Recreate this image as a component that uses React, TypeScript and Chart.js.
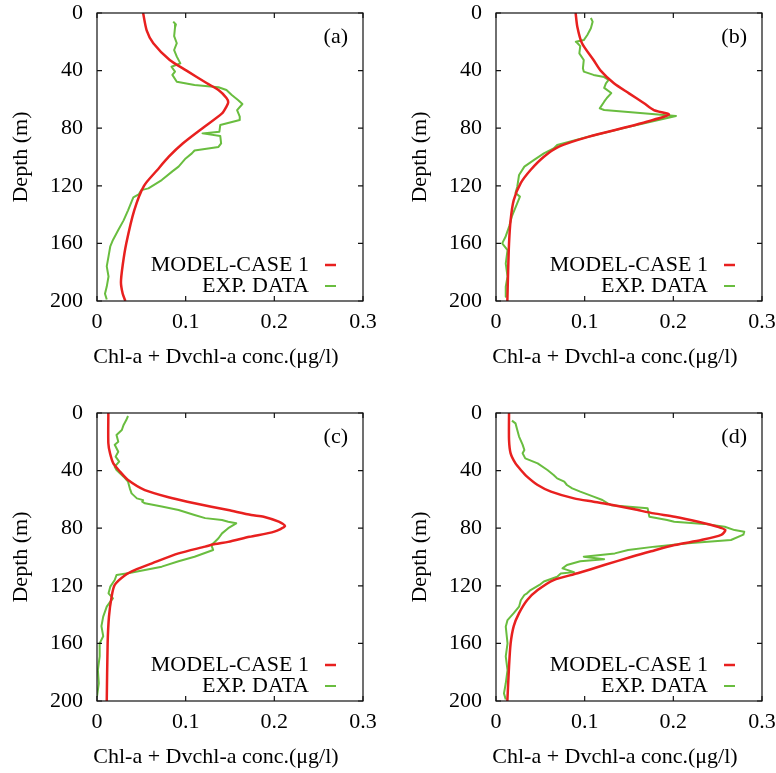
import React, { useEffect, useRef } from "react";
import { Chart, registerables } from "chart.js";

Chart.register(...registerables);

// ---------- DATA ----------
const xTicks = [0, 0.1, 0.2, 0.3];
const yTicks = [0, 40, 80, 120, 160, 200];
const panelLabels = ["(a)", "(b)", "(c)", "(d)"];
const seriesLabels = ["MODEL-CASE 1", "EXP. DATA"];
const xTitle = "Chl-a + Dvchl-a conc.(μg/l)";
const yTitle = "Depth (m)";

// Panel (a)
const depthModelA = [0, 12, 21, 32.6, 40, 48.8, 53.5, 59, 62, 65, 69.7, 80, 90.5, 99.8, 109, 120, 137, 160, 175, 187, 195, 200];
const concModelA = [0.052, 0.056, 0.0635, 0.082, 0.101, 0.124, 0.137, 0.146, 0.148, 0.146, 0.141, 0.119, 0.097, 0.081, 0.068, 0.053, 0.042, 0.033, 0.029, 0.027, 0.029, 0.032];
const depthExpA = [6, 8, 10, 16, 21, 25.7, 30.3, 35, 37.3, 40.7, 43, 47.7, 50, 51.6, 53.5, 57, 60.4, 63.2, 67.4, 72, 74.3, 77.8, 82.5, 83.6, 85.4, 90.5, 93, 95.5, 97.5, 101, 106.7, 110, 116, 121.8, 123, 126, 128, 131, 137, 144, 150.7, 157.6, 162, 169, 176, 183, 190, 195, 199];
const concExpA = [0.086, 0.089, 0.088, 0.087, 0.09, 0.087, 0.09, 0.094, 0.084, 0.088, 0.085, 0.09, 0.11, 0.137, 0.146, 0.152, 0.159, 0.164, 0.158, 0.161, 0.161, 0.139, 0.138, 0.119, 0.139, 0.14, 0.137, 0.11, 0.107, 0.1, 0.092, 0.085, 0.073, 0.058, 0.05, 0.047, 0.041, 0.039, 0.035, 0.03, 0.024, 0.018, 0.015, 0.013, 0.011, 0.013, 0.011, 0.009, 0.011];

// Panel (b)
const depthModelB = [0, 9.5, 21, 32.6, 40, 48.8, 55.8, 62.7, 67.4, 70.5, 75.5, 79, 86, 92.8, 99.8, 109, 118, 130, 143.8, 160, 183, 200];
const concModelB = [0.0898, 0.0917, 0.097, 0.11, 0.118, 0.133, 0.15, 0.167, 0.178, 0.195, 0.17, 0.149, 0.104, 0.071, 0.054, 0.039, 0.028, 0.02, 0.0165, 0.0147, 0.0135, 0.0128];
const depthExpB = [3.5, 6, 10.6, 15.3, 18.8, 20, 21, 23, 28, 32.6, 38.4, 40.7, 43, 44.5, 46.5, 48.8, 52, 55.6, 59, 61.6, 66.2, 67.4, 71.5, 79, 86, 91.7, 94, 97.5, 102, 106.7, 112.5, 120.6, 125, 127.5, 132, 141, 148, 155, 160, 164.6, 174, 183, 190, 197];
const concExpB = [0.107, 0.109, 0.107, 0.103, 0.099, 0.09, 0.092, 0.095, 0.094, 0.099, 0.098, 0.099, 0.11, 0.122, 0.127, 0.124, 0.122, 0.13, 0.125, 0.122, 0.117, 0.122, 0.203, 0.15, 0.104, 0.069, 0.065, 0.054, 0.043, 0.032, 0.026, 0.024, 0.022, 0.027, 0.024, 0.018, 0.015, 0.011, 0.007, 0.013, 0.011, 0.013, 0.011, 0.011];

// Panel (c)
const depthModelC = [0, 21, 28, 35, 40.7, 46.5, 53.5, 59, 62.7, 67.4, 70.8, 72, 75.5, 78.5, 82.4, 86, 89.5, 91, 92.8, 97.5, 104.4, 109, 112.5, 119.4, 127.5, 141.4, 160, 200];
const concModelC = [0.0128, 0.0128, 0.0147, 0.0184, 0.026, 0.035, 0.054, 0.084, 0.11, 0.148, 0.174, 0.188, 0.205, 0.212, 0.2, 0.172, 0.148, 0.133, 0.122, 0.092, 0.062, 0.043, 0.032, 0.02, 0.0165, 0.0135, 0.012, 0.011];
const depthExpC = [2.1, 4.9, 8.3, 11.8, 15.3, 20, 22, 26.9, 30.3, 33.8, 37.3, 39.6, 44.2, 47.7, 52.3, 55.8, 59.3, 60.5, 61.6, 62.7, 65, 67.4, 70.8, 73, 74.3, 75.5, 76.6, 80, 83.6, 87, 89.4, 91.7, 95.1, 99.8, 103, 106.7, 109, 111.3, 112.5, 116, 120.6, 125.2, 128.7, 131, 134.5, 141.4, 148, 155, 160, 169, 178.5, 187.7, 197];
const concExpC = [0.035, 0.033, 0.03, 0.028, 0.022, 0.024, 0.02, 0.024, 0.021, 0.025, 0.02, 0.022, 0.03, 0.035, 0.037, 0.039, 0.045, 0.052, 0.051, 0.054, 0.073, 0.092, 0.11, 0.122, 0.141, 0.148, 0.157, 0.148, 0.141, 0.137, 0.133, 0.129, 0.131, 0.11, 0.092, 0.073, 0.054, 0.035, 0.022, 0.02, 0.015, 0.013, 0.018, 0.015, 0.011, 0.007, 0.005, 0.007, 0.003, 0.003, 0.001, 0.002, 0.0];

// Panel (d)
const depthModelD = [0, 18.75, 28, 35, 39.6, 44.2, 50, 54.6, 59.3, 61.6, 63.4, 66.9, 69.7, 72, 75.5, 79, 81.3, 84.7, 88.2, 91.7, 96, 99.8, 105.6, 111.3, 116, 123, 130, 139, 148, 160, 176, 200];
const concModelD = [0.0147, 0.0147, 0.0165, 0.022, 0.028, 0.035, 0.047, 0.062, 0.088, 0.11, 0.127, 0.156, 0.178, 0.2015, 0.228, 0.25, 0.2586, 0.254, 0.2316, 0.2015, 0.175, 0.153, 0.122, 0.092, 0.065, 0.047, 0.035, 0.026, 0.02, 0.0165, 0.0147, 0.0128];
const depthExpD = [5.3, 7.2, 11.8, 16.4, 22, 25.7, 28, 31.5, 35, 39.6, 43, 45.4, 47.7, 50, 52.3, 54.6, 58.1, 60.4, 62.7, 64, 66.2, 72, 74.3, 75.5, 77, 79, 81.3, 82.4, 84.5, 88.2, 90.5, 92.8, 95.1, 97.5, 99.8, 101.5, 103, 105.6, 107.9, 110.5, 111.5, 113.7, 117, 119.4, 123, 125.2, 126.4, 130, 134.5, 139, 143.8, 148.4, 160, 169, 178.5, 187.7, 194.7, 199];
const concExpD = [0.018, 0.022, 0.024, 0.026, 0.03, 0.032, 0.03, 0.033, 0.047, 0.058, 0.065, 0.069, 0.077, 0.08, 0.086, 0.095, 0.11, 0.12, 0.126, 0.13, 0.171, 0.173, 0.193, 0.201, 0.235, 0.258, 0.269, 0.28, 0.279, 0.265, 0.2165, 0.179, 0.149, 0.134, 0.099, 0.122, 0.095, 0.08, 0.075, 0.088, 0.073, 0.069, 0.054, 0.049, 0.039, 0.035, 0.032, 0.028, 0.026, 0.02, 0.013, 0.011, 0.013, 0.011, 0.013, 0.011, 0.009, 0.011];

// ---------- STYLE ----------
const FONT = '"Liberation Serif", "Times New Roman", serif';
const RED = "#e8201f";
const GREEN = "#69bd3f";

const zip = (d: number[], c: number[]) => d.map((y, i) => ({ x: c[i], y }));

const panels = [
  { label: panelLabels[0], model: zip(depthModelA, concModelA), exp: zip(depthExpA, concExpA), left: 0, top: 0, w: 388, h: 370, padTop: 13, yW: 97, padRight: 25, xH: 69 },
  { label: panelLabels[1], model: zip(depthModelB, concModelB), exp: zip(depthExpB, concExpB), left: 388, top: 0, w: 388, h: 370, padTop: 13, yW: 108, padRight: 14, xH: 69 },
  { label: panelLabels[2], model: zip(depthModelC, concModelC), exp: zip(depthExpC, concExpC), left: 0, top: 370, w: 388, h: 403, padTop: 43, yW: 97, padRight: 25, xH: 72 },
  { label: panelLabels[3], model: zip(depthModelD, concModelD), exp: zip(depthExpD, concExpD), left: 388, top: 370, w: 388, h: 403, padTop: 43, yW: 108, padRight: 14, xH: 72 },
];

function makePlugin(panelLabel: string) {
  return {
    id: "gnuFrame",
    afterDatasetsDraw(chart: any) {
      const { ctx, chartArea: a, scales } = chart;
      const xs = scales.x;
      const ys = scales.y;
      ctx.save();
      ctx.strokeStyle = "#111";
      ctx.lineWidth = 1.2;
      ctx.strokeRect(a.left, a.top, a.right - a.left, a.bottom - a.top);
      const tl = 5;
      ctx.beginPath();
      xTicks.forEach((v) => {
        const px = xs.getPixelForValue(v);
        ctx.moveTo(px, a.bottom);
        ctx.lineTo(px, a.bottom - tl);
        ctx.moveTo(px, a.top);
        ctx.lineTo(px, a.top + tl);
      });
      yTicks.forEach((v) => {
        const py = ys.getPixelForValue(v);
        ctx.moveTo(a.left, py);
        ctx.lineTo(a.left + tl, py);
        ctx.moveTo(a.right, py);
        ctx.lineTo(a.right - tl, py);
      });
      ctx.stroke();
      ctx.restore();
    },
    afterDraw(chart: any) {
      const { ctx, chartArea: a } = chart;
      ctx.save();
      ctx.fillStyle = "#000";
      ctx.font = `22px ${FONT}`;
      ctx.textBaseline = "middle";
      // panel label
      ctx.textAlign = "right";
      ctx.fillText(panelLabel, a.right - 15, a.top + 24);
      // legend
      const rows = [a.bottom - 36, a.bottom - 15];
      chart.data.datasets.forEach((ds: any, i: number) => {
        const y = rows[i];
        ctx.fillStyle = "#000";
        ctx.textAlign = "right";
        ctx.fillText(ds.label, a.right - 54, y);
        ctx.strokeStyle = ds.borderColor;
        ctx.lineWidth = ds.borderWidth;
        ctx.beginPath();
        ctx.moveTo(a.right - 38, y);
        ctx.lineTo(a.right - 27, y);
        ctx.stroke();
      });
      // axis titles
      ctx.fillStyle = "#000";
      ctx.textAlign = "center";
      ctx.fillText(xTitle, (a.left + a.right) / 2 - 14, a.bottom + 56);
      ctx.translate(a.left - 76, (a.top + a.bottom) / 2);
      ctx.rotate(-Math.PI / 2);
      ctx.fillText(yTitle, 0, 0);
      ctx.restore();
    },
  };
}

function Panel({ p }: { p: any }) {
  const ref = useRef<HTMLCanvasElement>(null);
  useEffect(() => {
    if (!ref.current) return;
    const chart = new Chart(ref.current, {
      type: "scatter",
      data: {
        datasets: [
          { label: seriesLabels[0], data: p.model, borderColor: RED, backgroundColor: RED, borderWidth: 2.5, showLine: true, pointRadius: 0, tension: 0.25, borderJoinStyle: "round" },
          { label: seriesLabels[1], data: p.exp, borderColor: GREEN, backgroundColor: GREEN, borderWidth: 2, showLine: true, pointRadius: 0, tension: 0, borderJoinStyle: "round" },
        ],
      },
      options: {
        animation: false,
        responsive: false,
        devicePixelRatio: 1,
        layout: { padding: { left: 0, top: p.padTop, right: p.padRight, bottom: 0 } },
        plugins: { legend: { display: false }, tooltip: { enabled: false } },
        scales: {
          x: {
            type: "linear",
            min: 0,
            max: 0.3,
            afterFit: (s: any) => { s.height = p.xH; s.paddingLeft = 0; s.paddingRight = 0; },
            afterBuildTicks: (s: any) => { s.ticks = xTicks.map((v) => ({ value: v })); },
            grid: { display: false, drawTicks: false },
            border: { display: false },
            ticks: {
              padding: 8,
              color: "#000",
              font: { family: FONT, size: 22 },
              maxRotation: 0,
              callback: (v: any) => String(Math.round(Number(v) * 10) / 10),
            },
          },
          y: {
            type: "linear",
            reverse: true,
            min: 0,
            max: 200,
            afterFit: (s: any) => { s.width = p.yW; s.paddingTop = 0; s.paddingBottom = 0; },
            afterBuildTicks: (s: any) => { s.ticks = yTicks.map((v) => ({ value: v })); },
            grid: { display: false, drawTicks: false },
            border: { display: false },
            ticks: {
              padding: 14,
              color: "#000",
              font: { family: FONT, size: 22 },
              callback: (v: any) => String(v),
            },
          },
        },
      },
      plugins: [makePlugin(p.label)],
    } as any);
    return () => chart.destroy();
  }, [p]);
  return (
    <canvas
      ref={ref}
      width={p.w}
      height={p.h}
      style={{ position: "absolute", left: p.left, top: p.top, width: p.w, height: p.h }}
    />
  );
}

export default function App() {
  return (
    <div style={{ position: "absolute", left: 0, top: 0, width: 776, height: 773, background: "#fff" }}>
      {panels.map((p, i) => (
        <Panel key={i} p={p} />
      ))}
    </div>
  );
}
